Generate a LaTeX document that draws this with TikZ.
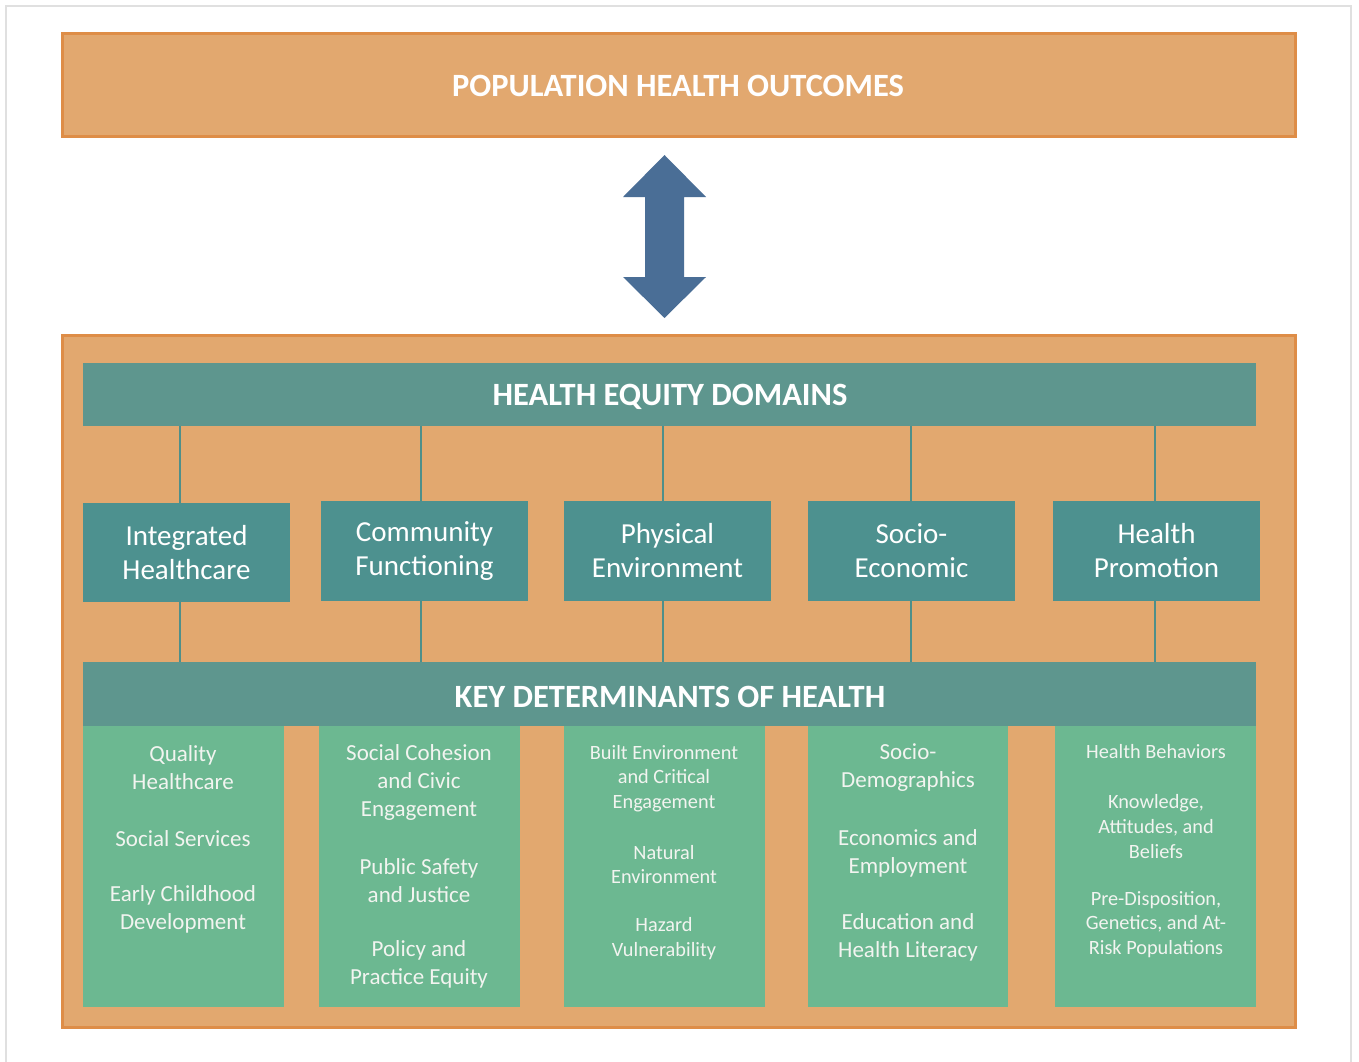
\documentclass[tikz,border=0pt]{standalone}
\usepackage{fontspec}
\setmainfont{Carlito}
\begin{document}
\begin{tikzpicture}[x=1pt,y=-1pt,
  every node/.style={inner sep=0pt,outer sep=0pt},
  orangebox/.style={fill=orbg,draw=orbd,line width=3pt},
  barbox/.style={fill=barc,draw=none},
  domainbox/.style={fill=domc,draw=none,text=white,align=center,font=\fontsize{29}{34}\selectfont},
  detbox/.style={fill=detc,draw=none},
  heading/.style={text=white,font=\fontsize{32.5}{36}\selectfont\bfseries},
  dettext/.style={text=dettx,align=center,font=\fontsize{23}{28}\selectfont},
  dettextsmall/.style={text=dettx,align=center,font=\fontsize{20.3}{24.6}\selectfont},
  link/.style={draw=linkc,line width=2pt}
]
\definecolor{orbg}{HTML}{E2A86F}
\definecolor{orbd}{HTML}{DE8D47}
\definecolor{barc}{HTML}{5E968E}
\definecolor{domc}{HTML}{4D918F}
\definecolor{detc}{HTML}{6CB891}
\definecolor{dettx}{HTML}{F2F4F0}
\definecolor{linkc}{HTML}{4E8F8A}
\definecolor{arrc}{HTML}{4A6E96}
\definecolor{framec}{HTML}{E0E0E0}

\useasboundingbox (0,0) rectangle (1359,1062);
\fill[white] (0,0) rectangle (1359,1062);
\draw[framec,line width=1.2pt] (6,1062) -- (6,6) -- (1351,6) -- (1351,1062);

% top box
\draw[orangebox] (62,34) rectangle (1295,136);
\node[heading] (outcomes) at (678,86) {POPULATION HEALTH OUTCOMES};

% double arrow
\fill[arrc] (664.5,155) -- (706,197) -- (684,197) -- (684,277) -- (706,277)
  -- (664.5,318) -- (623,277) -- (645,277) -- (645,197) -- (623,197) -- cycle;

% bottom box
\draw[orangebox] (62,335) rectangle (1295,1027);

% bars
\path[barbox] (83,363) rectangle (1256,426);
\node[heading] (hed) at (670,397) {HEALTH EQUITY DOMAINS};
\coordinate (hedb1) at (180,426);
\coordinate (hedb2) at (421,426);
\coordinate (hedb3) at (663,426);
\coordinate (hedb4) at (911,426);
\coordinate (hedb5) at (1155,426);

\path[barbox] (83,662) rectangle (1256,726);
\node[heading] (kdh) at (670,697) {KEY DETERMINANTS OF HEALTH};
\coordinate (kdht1) at (180,662);
\coordinate (kdht2) at (421,662);
\coordinate (kdht3) at (663,662);
\coordinate (kdht4) at (911,662);
\coordinate (kdht5) at (1155,662);

% domain boxes
\node[domainbox,minimum width=207pt,minimum height=99pt] (d1) at (186.5,552.5) {Integrated\\Healthcare};
\node[domainbox,minimum width=207pt,minimum height=100pt] (d2) at (424.5,551) {Community\\Functioning};
\node[domainbox,minimum width=207pt,minimum height=100pt] (d3) at (667.5,551) {Physical\\Environment};
\node[domainbox,minimum width=207pt,minimum height=100pt] (d4) at (911.5,551) {Socio-\\Economic};
\node[domainbox,minimum width=207pt,minimum height=100pt] (d5) at (1156.5,551) {Health\\Promotion};

% connectors
\draw[link] (hedb1) -- (hedb1 |- d1.north);
\draw[link] (hedb2) -- (hedb2 |- d2.north);
\draw[link] (hedb3) -- (hedb3 |- d3.north);
\draw[link] (hedb4) -- (hedb4 |- d4.north);
\draw[link] (hedb5) -- (hedb5 |- d5.north);
\draw[link] (kdht1 |- d1.south) -- (kdht1);
\draw[link] (kdht2 |- d2.south) -- (kdht2);
\draw[link] (kdht3 |- d3.south) -- (kdht3);
\draw[link] (kdht4 |- d4.south) -- (kdht4);
\draw[link] (kdht5 |- d5.south) -- (kdht5);

% determinant columns
\path[detbox] (83,726) rectangle (284,1007);
\path[detbox] (319,726) rectangle (520,1007);
\path[detbox] (564,726) rectangle (765,1007);
\path[detbox] (808,726) rectangle (1008,1007);
\path[detbox] (1055,726) rectangle (1256,1007);

% column 1
\node[dettext] (c1a) at (183,768) {Quality\\Healthcare};
\node[dettext] (c1b) at (183,839) {Social Services};
\node[dettext] (c1c) at (183,909) {Early Childhood\\Development};
% column 2
\node[dettext] (c2a) at (419,782) {Social Cohesion\\and Civic\\Engagement};
\node[dettext] (c2b) at (419,881) {Public Safety\\and Justice};
\node[dettext] (c2c) at (419,964.5) {Policy and\\Practice Equity};
% column 3
\node[dettextsmall] (c3a) at (664,778.5) {Built Environment\\and Critical\\Engagement};
\node[dettextsmall] (c3b) at (664,864.5) {Natural\\Environment};
\node[dettextsmall] (c3c) at (664,938.5) {Hazard\\Vulnerability};
% column 4
\node[dettext] (c4a) at (908,768) {Socio-\\Demographics};
\node[dettext] (c4b) at (908,853) {Economics and\\Employment};
\node[dettext] (c4c) at (908,937) {Education and\\Health Literacy};
% column 5
\node[dettextsmall] (c5a) at (1156,752) {Health Behaviors};
\node[dettextsmall] (c5b) at (1156,826.5) {Knowledge,\\Attitudes, and\\Beliefs};
\node[dettextsmall] (c5c) at (1156,924.5) {Pre-Disposition,\\Genetics, and At-\\Risk Populations};
\end{tikzpicture}
\end{document}
